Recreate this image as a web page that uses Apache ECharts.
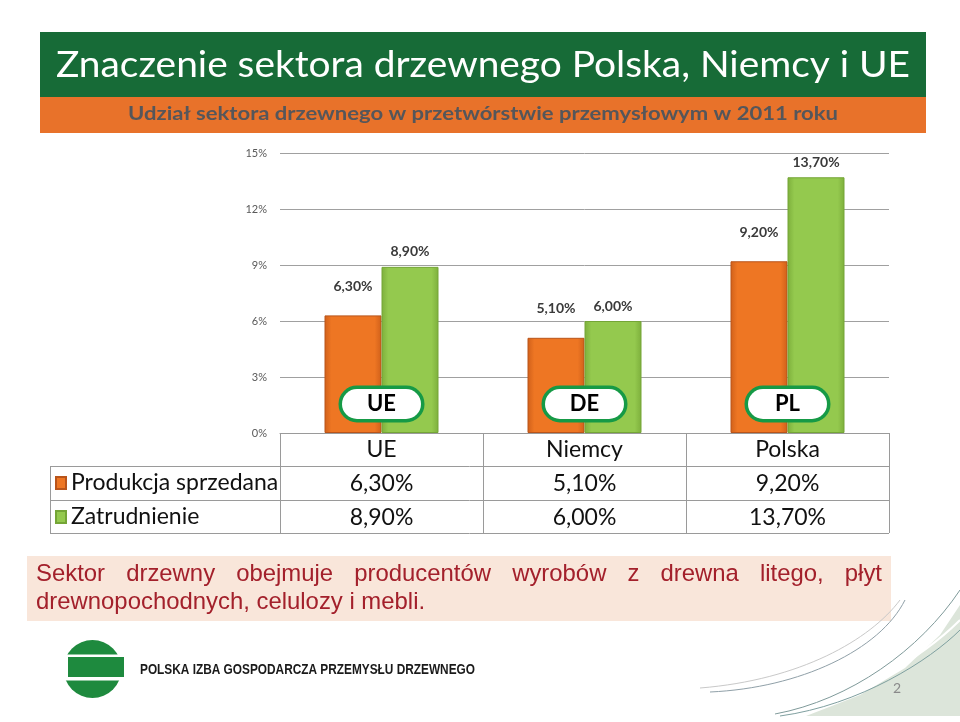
<!DOCTYPE html>
<html><head><meta charset="utf-8">
<script src="https://cdn.jsdelivr.net/npm/echarts@6/dist/echarts.min.js"></script>
<style>html,body{margin:0;padding:0;background:#fff}#c{width:960px;height:722px}</style>
</head><body><div id="c"></div>
<script>
const title = 'Znaczenie sektora drzewnego Polska, Niemcy i UE';
const subtitle = 'Udział sektora drzewnego w przetwórstwie przemysłowym w 2011 roku';
const categories = ['UE', 'Niemcy', 'Polska'];
const codes = ['UE', 'DE', 'PL'];
const seriesNames = ['Produkcja sprzedana', 'Zatrudnienie'];
const produkcja = [6.3, 5.1, 9.2];
const zatrudnienie = [8.9, 6.0, 13.7];
const yMax = 15, yStep = 3;
const noteLine1 = 'Sektor drzewny obejmuje producentów wyrobów z drewna litego, płyt';
const noteLine2 = 'drewnopochodnych, celulozy i mebli.';
const orgName = 'POLSKA IZBA GOSPODARCZA PRZEMYSŁU DRZEWNEGO';
const pageNo = '2';

const fmt = v => v.toFixed(2).replace('.', ',') + '%';
const ctx = document.createElement('canvas').getContext('2d');
function w(text, font) { ctx.font = font; return ctx.measureText(text).width; }
function fitText(text, x, y, width, size, family, weight, fill) {
  const font = (weight || 'normal') + ' ' + size + 'px ' + family;
  const s = width / w(text, font);
  return { type: 'text', x: x, y: y, scaleX: s, silent: true,
    style: { text: text, font: font, fill: fill, align: 'left', verticalAlign: 'middle' } };
}
const gridL = 280, gridR = 889, gridT = 153, gridB = 433;

function barGrad(edge, mid) {
  return { type: 'linear', x: 0, y: 0, x2: 1, y2: 0, colorStops: [
    { offset: 0, color: edge }, { offset: 0.12, color: mid }, { offset: 0.88, color: mid }, { offset: 1, color: edge }] };
}

// note text: size fitted to second line width, first line justified
const noteL = 36, noteRgt = 882;
let noteSize = 21 * 390 / w(noteLine2, 'normal 21px "Liberation Sans"');
const noteFont = 'normal ' + noteSize.toFixed(1) + 'px "Liberation Sans"';
const noteWords = noteLine1.split(' ');
const wordsW = noteWords.map(t => w(t, noteFont));
const gap = (noteRgt - noteL - wordsW.reduce((a, b) => a + b, 0)) / (noteWords.length - 1);
const noteEls = [];
let cx = noteL;
noteWords.forEach((t, i) => {
  noteEls.push({ type: 'text', x: cx, y: 574, silent: true, style: { text: t, font: noteFont, fill: '#A3202B', verticalAlign: 'middle' } });
  cx += wordsW[i] + gap;
});
noteEls.push({ type: 'text', x: noteL, y: 602, silent: true, style: { text: noteLine2, font: noteFont, fill: '#A3202B', verticalAlign: 'middle' } });

const lineStyle = { stroke: '#9a9a9a', lineWidth: 1 };
const graphics = [
  { type: 'rect', shape: { x: 40, y: 32, width: 886, height: 65 }, style: { fill: '#176B37' }, silent: true },
  { type: 'rect', shape: { x: 40, y: 97, width: 886, height: 36 }, style: { fill: '#E8722A' }, silent: true },
  fitText(title, 56, 65, 854, 36, 'Lato', 'normal', '#ffffff'),
  fitText(subtitle, 128, 114, 710, 19, 'Lato', 'bold', '#55565A'),
  // table lines
  { type: 'line', shape: { x1: 50, y1: 466.5, x2: gridR, y2: 466.5 }, style: lineStyle, silent: true },
  { type: 'line', shape: { x1: 50, y1: 500.5, x2: gridR, y2: 500.5 }, style: lineStyle, silent: true },
  { type: 'line', shape: { x1: 50, y1: 533.5, x2: gridR, y2: 533.5 }, style: lineStyle, silent: true },
  { type: 'line', shape: { x1: 50.5, y1: 466, x2: 50.5, y2: 534 }, style: lineStyle, silent: true },
  // note box
  { type: 'rect', shape: { x: 27, y: 556, width: 864, height: 65 }, style: { fill: '#F9E6DA' }, silent: true },
  ...noteEls,
  // decorative corner
  { type: 'polygon', shape: { points: [[806, 716], [860, 695], [905, 668], [940, 635], [960, 605], [960, 716]] }, style: { fill: '#DCE5DA' }, silent: true },
  { type: 'bezierCurve', shape: { x1: 775, y1: 714, cpx1: 850, cpy1: 700, cpx2: 920, cpy2: 650, x2: 960, y2: 590 }, style: { stroke: '#7F9A9A', lineWidth: 1, fill: null }, silent: true },
  { type: 'bezierCurve', shape: { x1: 700, y1: 688, cpx1: 800, cpy1: 680, cpx2: 870, cpy2: 640, x2: 900, y2: 600 }, style: { stroke: '#C9C9C9', lineWidth: 1, fill: null }, silent: true },
  { type: 'bezierCurve', shape: { x1: 710, y1: 692, cpx1: 800, cpy1: 688, cpx2: 880, cpy2: 650, x2: 905, y2: 600 }, style: { stroke: '#90A0A8', lineWidth: 1, fill: null }, silent: true },
  { type: 'bezierCurve', shape: { x1: 760, y1: 718, cpx1: 850, cpy1: 708, cpx2: 930, cpy2: 650, x2: 960, y2: 620 }, style: { stroke: '#ffffff', lineWidth: 2, fill: null }, silent: true },
  { type: 'bezierCurve', shape: { x1: 780, y1: 716, cpx1: 860, cpy1: 705, cpx2: 930, cpy2: 660, x2: 960, y2: 630 }, style: { stroke: '#7FA0A0', lineWidth: 1, fill: null }, silent: true },
  { type: 'text', x: 897, y: 688, silent: true, style: { text: pageNo, font: 'normal 14px Lato', fill: '#8a8a8a', align: 'center', verticalAlign: 'middle' } },
  // logo
  { type: 'circle', shape: { cx: 92.5, cy: 669, r: 29 }, style: { fill: '#1E8A3E' }, silent: true },
  { type: 'rect', shape: { x: 58, y: 654.5, width: 70, height: 26 }, style: { fill: '#ffffff' }, silent: true },
  { type: 'rect', shape: { x: 68, y: 657, width: 56, height: 20 }, style: { fill: '#1E8A3E' }, silent: true },
  fitText(orgName, 140, 670, 335, 15, '"Liberation Sans"', 'bold', '#1a1a1a')
];

const chart = echarts.init(document.getElementById('c'), null, { renderer: 'canvas' });
chart.setOption({
  animation: false,
  backgroundColor: '#ffffff',
  grid: { left: gridL, right: 960 - gridR, top: gridT, bottom: 722 - gridB },
  legend: {
    data: seriesNames, orient: 'vertical', left: 50, top: 466,
    icon: 'rect', itemWidth: 10, itemHeight: 12, itemGap: 10, selectedMode: false,
    textStyle: { fontFamily: 'Lato', fontSize: 23, color: '#111', lineHeight: 24, padding: [0, 0, 0, 0] }
  },
  xAxis: {
    type: 'category', data: categories,
    axisLine: { show: true, lineStyle: { color: '#9a9a9a' } },
    axisTick: { show: true, length: 100, lineStyle: { color: '#9a9a9a' } },
    axisLabel: {
      margin: 0, fontFamily: 'Lato', fontSize: 23, color: '#111', lineHeight: 34,
      formatter: (v, i) => v + '\n' + fmt(produkcja[i]) + '\n' + fmt(zatrudnienie[i])
    }
  },
  yAxis: {
    type: 'value', min: 0, max: yMax, interval: yStep,
    axisLine: { show: false }, axisTick: { show: false },
    axisLabel: { formatter: '{value}%', fontFamily: 'Lato', fontSize: 11, color: '#595959', margin: 13 },
    splitLine: { lineStyle: { color: '#a0a0a0' } }
  },
  series: [
    {
      name: seriesNames[0], type: 'bar', data: produkcja, barWidth: 57, barGap: '0%',
      itemStyle: { color: barGrad('#D0601A', '#EE7623'), borderColor: '#B9541A', borderWidth: 1 },
      label: { show: true, position: 'top', distance: 22, formatter: p => fmt(p.value), fontFamily: 'Lato', fontWeight: 'bold', fontSize: 14, color: '#3a3a3a' }
    },
    {
      name: seriesNames[1], type: 'bar', data: zatrudnienie, barWidth: 57,
      itemStyle: { color: barGrad('#7DAF3C', '#94C94E'), borderColor: '#74A536', borderWidth: 1 },
      label: { show: true, position: 'top', distance: 8, formatter: p => fmt(p.value), fontFamily: 'Lato', fontWeight: 'bold', fontSize: 14, color: '#3a3a3a' }
    },
    {
      type: 'scatter', z: 5, symbolSize: 1, itemStyle: { color: 'rgba(0,0,0,0)', opacity: 1 }, silent: true,
      data: codes.map((c, i) => ({ name: c, value: [i, 0] })),
      label: {
        show: true, position: 'inside', offset: [0, -29], formatter: '{b}',
        fontFamily: 'Lato', fontWeight: 'bold', fontSize: 22, color: '#000',
        backgroundColor: '#ffffff', borderColor: '#169A46', borderWidth: 3.5, borderRadius: 17,
        width: 79, height: 30, lineHeight: 30, align: 'center', verticalAlign: 'middle'
      }
    }
  ],
  graphic: graphics
});
</script></body></html>
